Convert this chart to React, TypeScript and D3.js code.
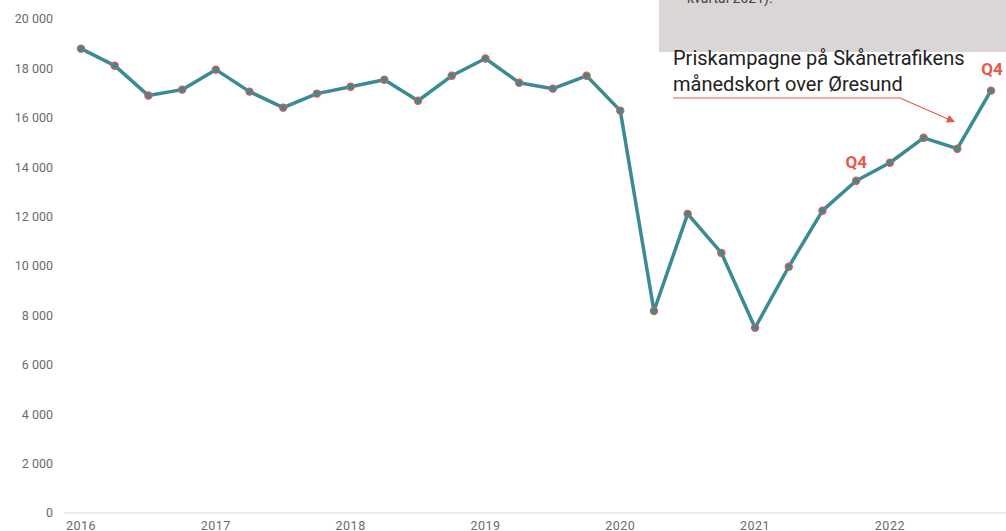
import React from "react";
import * as d3 from "d3";

const quarters = [
  "2016Q1","2016Q2","2016Q3","2016Q4",
  "2017Q1","2017Q2","2017Q3","2017Q4",
  "2018Q1","2018Q2","2018Q3","2018Q4",
  "2019Q1","2019Q2","2019Q3","2019Q4",
  "2020Q1","2020Q2","2020Q3","2020Q4",
  "2021Q1","2021Q2","2021Q3","2021Q4",
  "2022Q1","2022Q2","2022Q3","2022Q4",
];
const values = [
  18800, 18110, 16900, 17140,
  17950, 17060, 16410, 16980,
  17260, 17540, 16690, 17700,
  18400, 17420, 17180, 17700,
  16290, 8180, 12110, 10530,
  7500, 9970, 12240, 13450,
  14180, 15190, 14750, 17100,
];
const yTicks = [0, 2000, 4000, 6000, 8000, 10000, 12000, 14000, 16000, 18000, 20000];
const yearLabels = ["2016", "2017", "2018", "2019", "2020", "2021", "2022"];
const q4Labels = ["2021Q4", "2022Q4"];
const annotationLines = ["Priskampagne på Skånetrafikens", "månedskort over Øresund"];
const boxText = "kvartal 2021).";

const W = 1006, H = 531;
const TEAL = "#3a8b93";
const RED = "#e5584b";

export default function App() {
  const x = d3.scalePoint<string>().domain(quarters).range([81, 991]);
  const y = d3.scaleLinear().domain([0, 20000]).range([513, 19]);
  const fmt = (v: number) => d3.format(",")(v).replace(/,/g, " ");
  const line = d3.line<number>().x((_, i) => x(quarters[i])!).y((d) => y(d));
  const val = (q: string) => values[quarters.indexOf(q)];

  return (
    <svg width={W} height={H} style={{ position: "absolute", left: 0, top: 0, background: "#fff" }}
      fontFamily="Roboto, sans-serif">
      <defs>
        <marker id="arr" viewBox="0 0 10 10" refX="9" refY="5" markerWidth="7" markerHeight="7" orient="auto">
          <path d="M0,0 L10,5 L0,10 z" fill={RED} />
        </marker>
      </defs>
      {/* grey info box */}
      <rect x={659} y={0} width={W - 659} height={52} fill="#d9d6d5" />
      <text x={687} y={3} fontSize={14} fill="#444">{boxText}</text>

      {/* y axis ticks */}
      {yTicks.map((t) => (
        <text key={t} x={53} y={y(t)} dy="0.35em" textAnchor="end" fontSize={12.5} fill="#6b6b6b">
          {fmt(t)}
        </text>
      ))}
      <line x1={64} x2={W} y1={y(0)} y2={y(0)} stroke="#d9d9d9" strokeWidth={1} />

      {/* x labels */}
      {yearLabels.map((yr) => (
        <text key={yr} x={x(yr + "Q1")!} y={530} textAnchor="middle" fontSize={12.5} fill="#6b6b6b" letterSpacing={0.5}>
          {yr}
        </text>
      ))}

      {/* line */}
      <path d={line(values) || ""} fill="none" stroke={TEAL} strokeWidth={3.5} strokeLinejoin="round" />
      {values.map((v, i) => (
        <circle key={i} cx={x(quarters[i])!} cy={y(v)} r={3.6} fill={TEAL} stroke={RED} strokeWidth={1.2} />
      ))}

      {/* Q4 labels */}
      <text x={x(q4Labels[0])!} y={y(val(q4Labels[0])) - 13} textAnchor="middle" fontSize={17} fontWeight={700} fill={RED}>Q4</text>
      <text x={x(q4Labels[1])! + 1} y={y(val(q4Labels[1])) - 16} textAnchor="middle" fontSize={17} fontWeight={700} fill={RED}>Q4</text>

      {/* annotation */}
      {annotationLines.map((l, i) => (
        <text key={i} x={673} y={65 + i * 26} fontSize={20} fill="#222">{l}</text>
      ))}
      <polyline points={`673,98 900,98 ${x("2022Q3")! - 3},${y(val("2022Q3")) - 27}`} fill="none" stroke={RED} strokeWidth={1.2} markerEnd="url(#arr)" />
    </svg>
  );
}
